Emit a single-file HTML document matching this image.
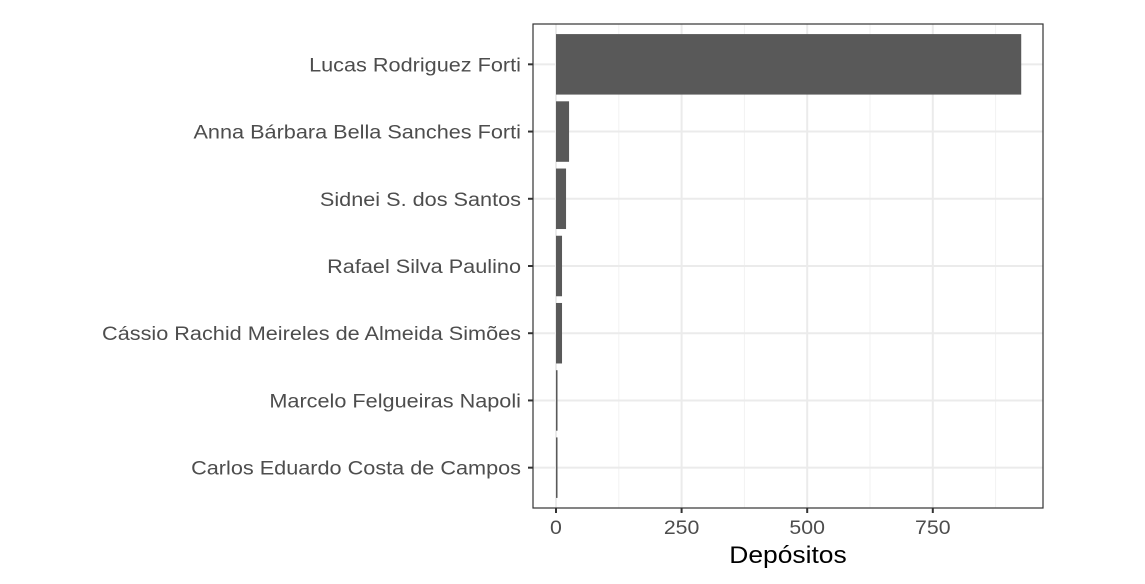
<!DOCTYPE html>
<html><head><meta charset="utf-8"><style>
body{margin:0;background:#fff;font-family:"Liberation Sans",sans-serif}
</style></head><body>
<svg id="chart" width="1145" height="579"></svg>
<script>
const names=["Lucas Rodriguez Forti","Anna Bárbara Bella Sanches Forti","Sidnei S. dos Santos","Rafael Silva Paulino","Cássio Rachid Meireles de Almeida Simões","Marcelo Felgueiras Napoli","Carlos Eduardo Costa de Campos"];
const deposits=[926,26,20,12,12,3,3];
const ticks=[0,250,500,750];
const minor=[125,375,625,875];
const svg=document.getElementById('chart');
const NS='http://www.w3.org/2000/svg';
const L=533,R=1043,T=24,B=508;
const x=v=>556+v*0.5024;
const step=(B-T)/(names.length+0.2);
const y=i=>T+step*(i+0.6);
function mk(t,a,name){const e=document.createElementNS(NS,t);for(const k in a)e.setAttribute(k,a[k]);


svg.appendChild(e);return e;}
function stretch(t,f){const w=t.getComputedTextLength();t.setAttribute('textLength',w*f);t.setAttribute('lengthAdjust','spacingAndGlyphs');}
mk('rect',{x:L,y:T,width:R-L,height:B-T,fill:'#fff'},'panel-background');
minor.forEach(v=>mk('line',{x1:x(v),x2:x(v),y1:T,y2:B,stroke:'#f2f2f2','stroke-width':1},'minor-gridline'));
ticks.forEach(v=>mk('line',{x1:x(v),x2:x(v),y1:T,y2:B,stroke:'#ebebeb','stroke-width':2},'major-gridline'));
names.forEach((n,i)=>mk('line',{x1:L,x2:R,y1:y(i),y2:y(i),stroke:'#ebebeb','stroke-width':2},'y-gridline'));
deposits.forEach((v,i)=>mk('rect',{x:x(0),y:y(i)-step*0.45,width:x(v)-x(0),height:step*0.9,fill:'#595959'},'bar-'+i));
mk('rect',{x:L,y:T,width:R-L,height:B-T,fill:'none',stroke:'#333','stroke-width':1.2},'panel-border');
names.forEach((n,i)=>{mk('line',{x1:L-5,x2:L,y1:y(i),y2:y(i),stroke:'#333','stroke-width':2},'y-tick');
const t=mk('text',{x:L-12,y:y(i)+7,'text-anchor':'end','font-size':19,fill:'#4d4d4d'},'y-tick-label');t.textContent=n;stretch(t,1.14);});
ticks.forEach(v=>{mk('line',{x1:x(v),x2:x(v),y1:B,y2:B+5,stroke:'#333','stroke-width':2},'x-tick');
const t=mk('text',{x:x(v),y:B+26,'text-anchor':'middle','font-size':19,fill:'#4d4d4d'},'x-tick-label');t.textContent=v;stretch(t,1.12);});
const xt=mk('text',{x:(L+R)/2,y:563,'text-anchor':'middle','font-size':24,fill:'#000'},'x-axis-title');xt.textContent='Depósitos';stretch(xt,1.1);
</script>
</body></html>
